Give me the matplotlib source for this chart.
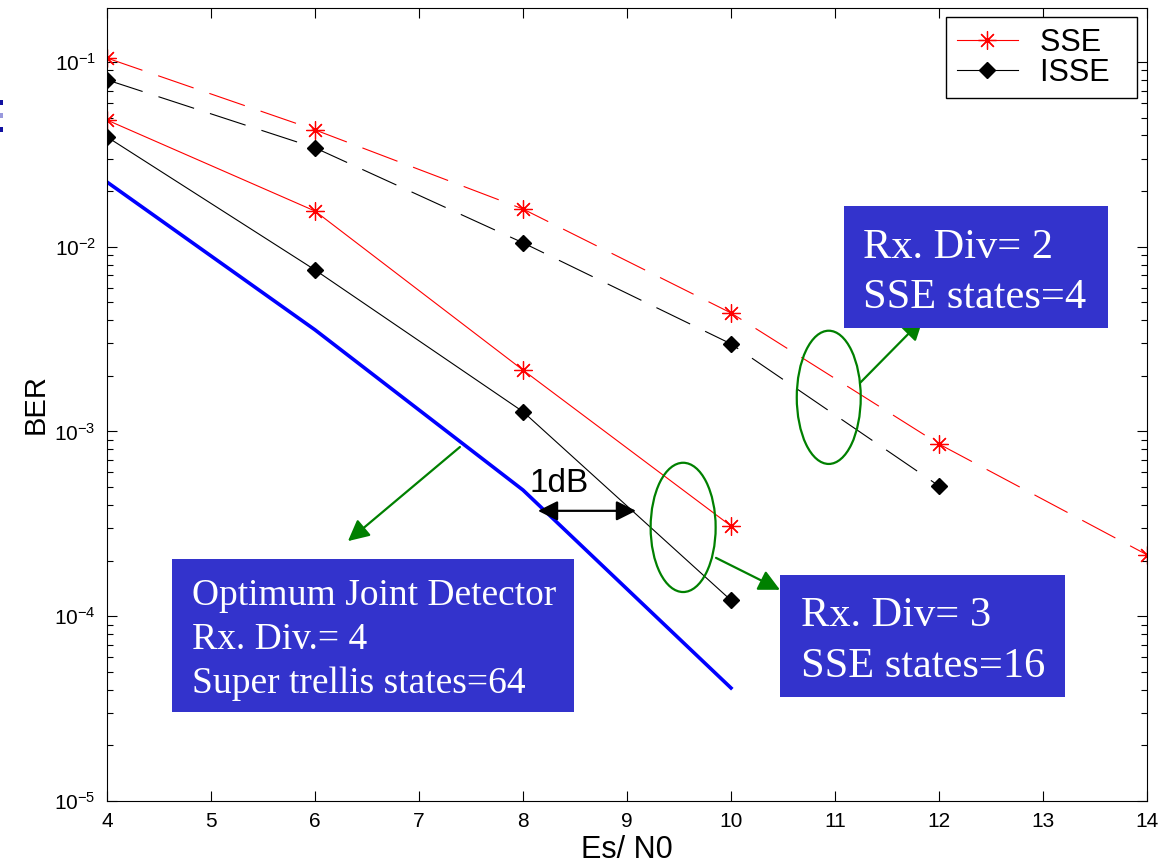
import numpy as np
import matplotlib
matplotlib.use("Agg")
import matplotlib.pyplot as plt
from matplotlib.patches import Ellipse, Rectangle

plt.rcParams['font.family'] = ['Liberation Sans', 'DejaVu Sans']
plt.rcParams['lines.scale_dashes'] = False
plt.rcParams['axes.unicode_minus'] = False

# Es/N0 (dB)
snr_div2 = [4, 6, 8, 10, 12, 14]
snr_div2_isse = [4, 6, 8, 10, 12]
snr_div3 = [4, 6, 8, 10]

# BER values
sse_div2 = [0.105, 0.0429, 0.0160, 0.00438, 0.000855, 0.000215]
isse_div2 = [0.080, 0.0343, 0.0105, 0.00298, 0.000507]
sse_div3 = [0.0485, 0.0156, 0.00215, 0.000308]
isse_div3 = [0.0393, 0.00749, 0.00128, 0.000122]
optimum = [0.0224, 0.00355, 0.000482, 4.09e-5]

xticks = [4, 5, 6, 7, 8, 9, 10, 11, 12, 13, 14]

box_blue = '#3333CC'
green = '#008000'

fig = plt.figure(figsize=(11.6, 8.65), dpi=100)
ax = fig.add_axes([0.0922, 0.074, 0.8966, 0.9168])

dash = (0, (27, 12))
asterisk = (8, 2, 0)

# Rx. Div = 2 (dashed)
ax.semilogy(snr_div2, sse_div2, color='red', lw=0.8, linestyle=dash,
            marker=asterisk, markersize=13, markeredgewidth=0.9)
ax.semilogy(snr_div2_isse, isse_div2, color='black', lw=0.8, linestyle=dash,
            marker='D', markersize=8, markerfacecolor='black')

# Rx. Div = 3 (solid)
ax.semilogy(snr_div3, sse_div3, color='red', lw=0.8, linestyle='-',
            marker=asterisk, markersize=13, markeredgewidth=0.9, label='SSE  ')
ax.semilogy(snr_div3, isse_div3, color='black', lw=0.8, linestyle='-',
            marker='D', markersize=8, markerfacecolor='black', label='ISSE  ')

# optimum joint detector
ax.semilogy(snr_div3, optimum, color='blue', lw=2.6)

ax.set_xlim(4, 14)
ax.set_ylim(1e-5, 0.196)
ax.set_xticks(xticks)
ax.tick_params(which='both', direction='in', top=True, right=True,
               labelsize=15, width=0.8)
ax.tick_params(which='major', length=7, pad=8)
ax.tick_params(which='minor', length=4)
for s in ax.spines.values():
    s.set_linewidth(0.8)

ax.set_xlabel('Es/ N0', fontsize=22, labelpad=3)
ax.set_ylabel('BER', fontsize=21, labelpad=3)

leg = ax.legend(loc='upper right', bbox_to_anchor=(0.9904, 0.9887),
                fontsize=22, fancybox=False, framealpha=1, edgecolor='black',
                borderpad=0.35, labelspacing=0.0, handlelength=2.0,
                handletextpad=0.72, borderaxespad=0)
leg.get_frame().set_linewidth(1.0)

# ellipses around the curve groups
ax.add_patch(Ellipse((0.694, 0.509), 0.0615, 0.168, transform=ax.transAxes,
                     fill=False, edgecolor=green, lw=1.6, zorder=5))
ax.add_patch(Ellipse((0.554, 0.345), 0.0625, 0.163, transform=ax.transAxes,
                     fill=False, edgecolor=green, lw=1.6, zorder=5))

arrow = dict(arrowstyle='-|>', color=green, lw=1.6, mutation_scale=32,
             shrinkA=0, shrinkB=0)
ax.annotate('', xy=(11.846, 4.06e-3), xytext=(11.24, 1.83e-3), arrowprops=arrow)
ax.annotate('', xy=(10.471, 1.39e-4), xytext=(9.856, 2.07e-4), arrowprops=arrow)
ax.annotate('', xy=(6.317, 2.55e-4), xytext=(7.394, 8.24e-4), arrowprops=arrow)

# 1dB gap
ax.annotate('', xy=(8.144, 3.72e-4), xytext=(9.087, 3.72e-4),
            arrowprops=dict(arrowstyle='<|-|>', color='black', lw=1.6,
                            mutation_scale=30, shrinkA=0, shrinkB=0))
ax.text(8.067, 4.7e-4, '1dB', fontsize=24, ha='left', va='baseline')

# label boxes
boxes = [
    ((0.7087, 0.5965), 0.2538, 0.1538, 0.7269, [0.6847, 0.6217],
     ['Rx. Div= 2', 'SSE states=4'], 30.5),
    ((0.6471, 0.1311), 0.2741, 0.1539, 0.6673, [0.2207, 0.1564],
     ['Rx. Div= 3', 'SSE states=16'], 30.5),
    ((0.0625, 0.1122), 0.3865, 0.1930, 0.0817, [0.2472, 0.1917, 0.1362],
     ['Optimum Joint Detector', 'Rx. Div.= 4', 'Super trellis states=64'], 27),
]
for (x0, y0), w, h, tx, tys, lines, fs in boxes:
    ax.add_patch(Rectangle((x0, y0), w, h, transform=ax.transAxes,
                           facecolor=box_blue, edgecolor='none', zorder=6))
    for ty, line in zip(tys, lines):
        ax.text(tx, ty, line, transform=ax.transAxes, color='white',
                fontsize=fs, family='Liberation Serif', va='baseline',
                zorder=7)

# small blue marks on the left edge (crop leftovers)
for y, c in [(100, '#1010A0'), (113, '#9999DD'), (127, '#1010A0')]:
    fig.patches.append(Rectangle((0, 1 - (y + 5) / 865), 2.5 / 1160, 5 / 865,
                                 transform=fig.transFigure, facecolor=c,
                                 edgecolor='none'))

fig.savefig('out.png', dpi=100)
